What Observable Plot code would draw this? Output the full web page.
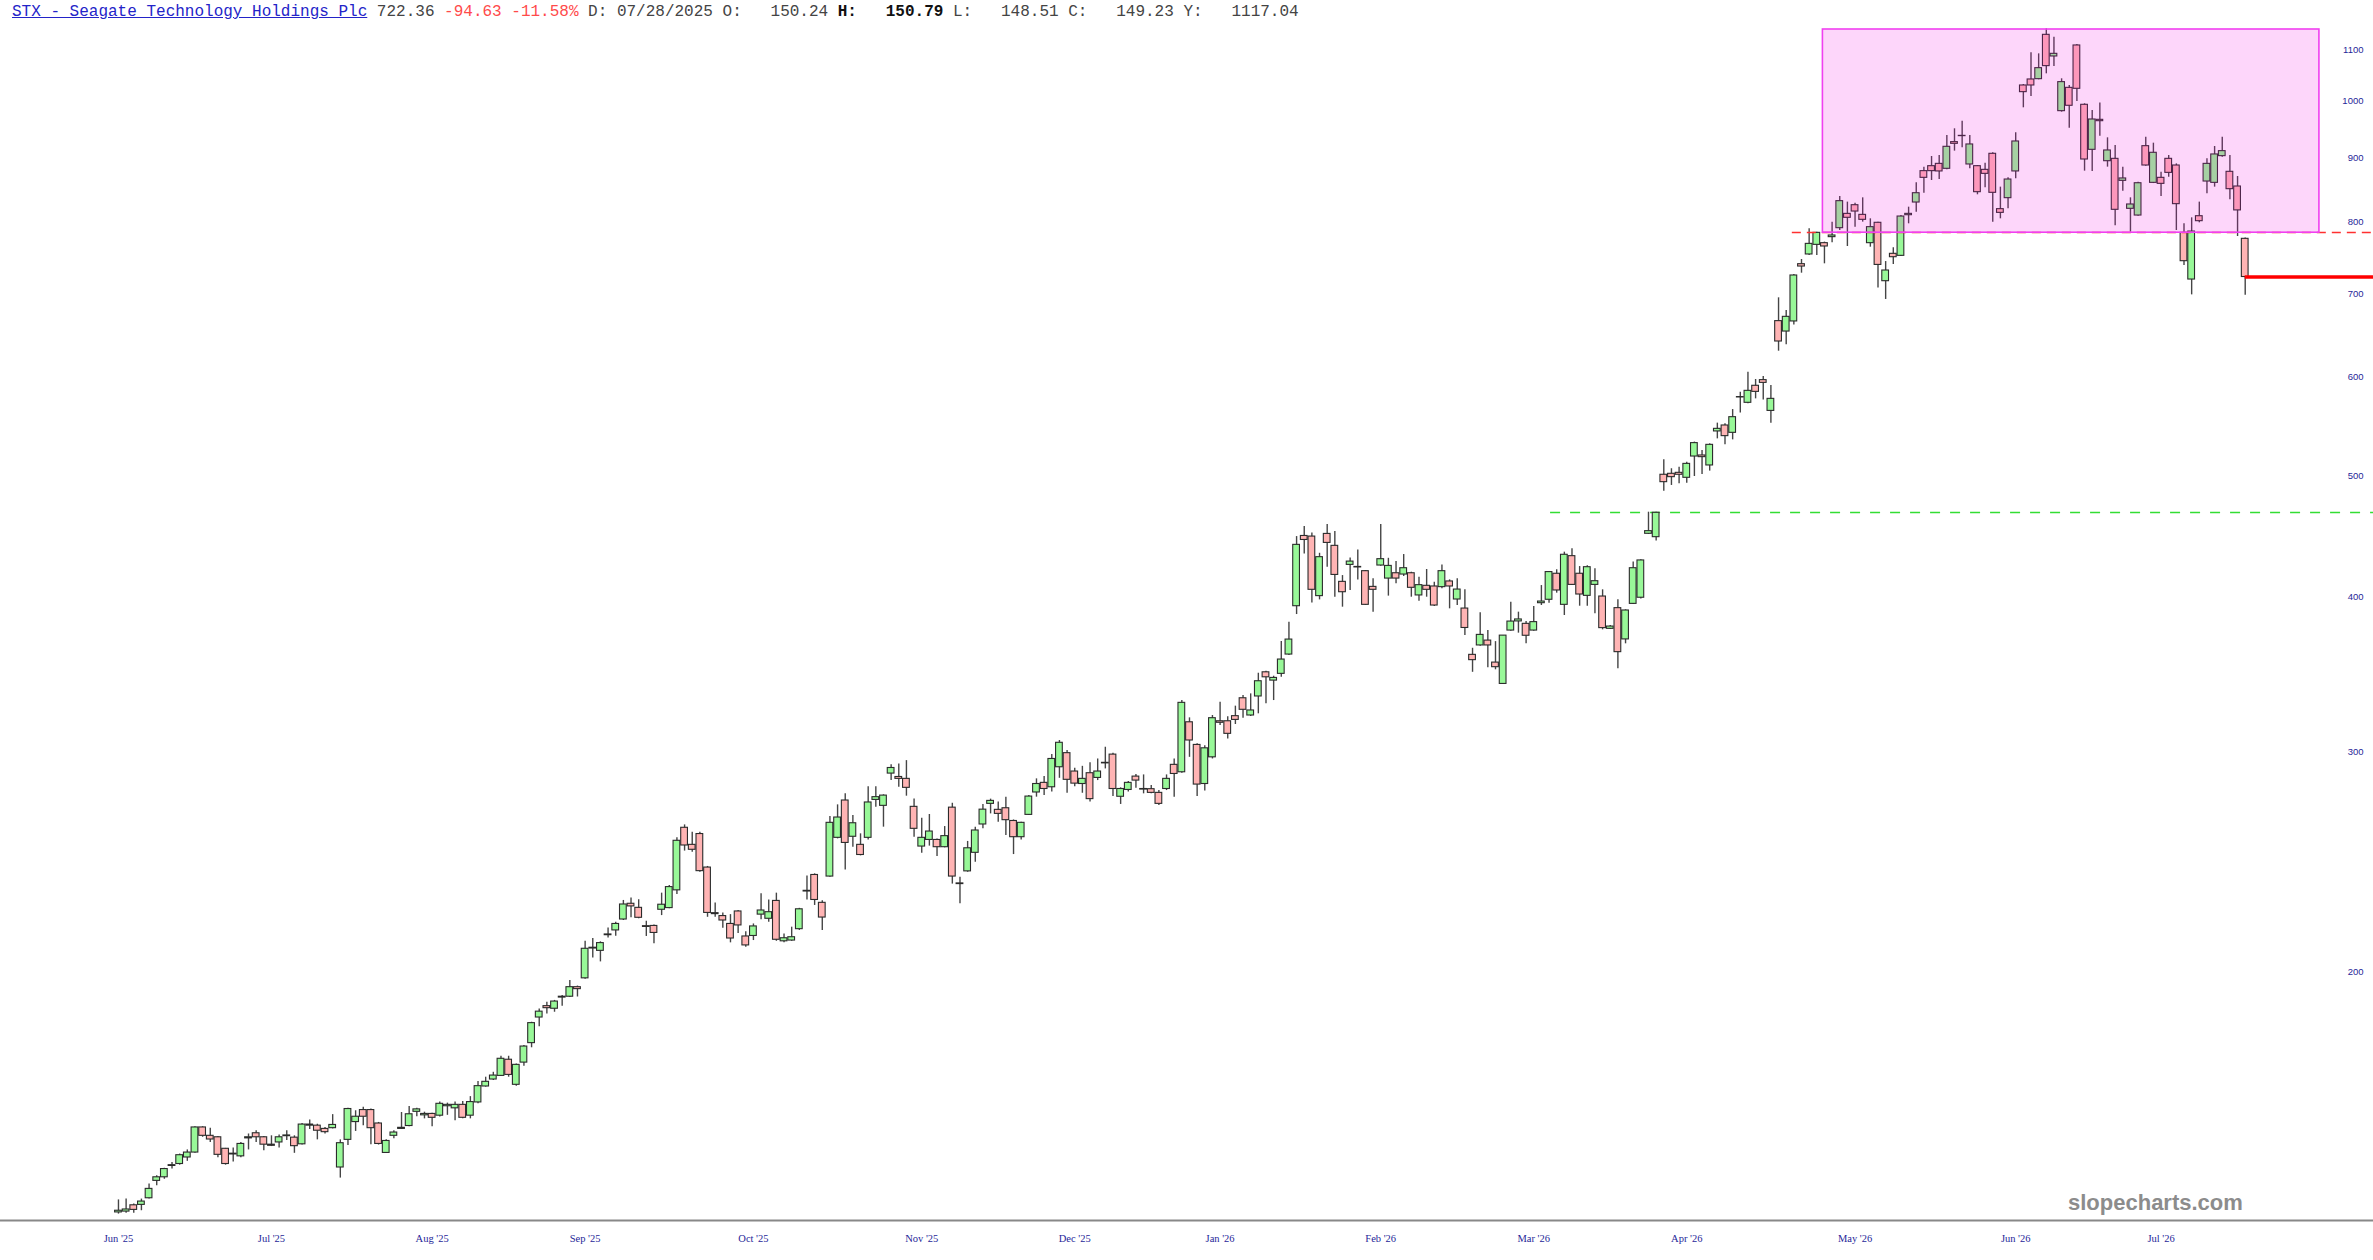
<!DOCTYPE html>
<html>
<head>
<meta charset="utf-8">
<script src="https://cdn.jsdelivr.net/npm/d3@7"></script>
<script src="https://cdn.jsdelivr.net/npm/@observablehq/plot@0.6"></script>
<style>
  html, body { margin: 0; padding: 0; background: #fff; }
  #wrap { position: relative; width: 2373px; height: 1260px; overflow: hidden; }
  #header { position: absolute; left: 12px; top: 3px; font-family: "Liberation Mono", "DejaVu Sans Mono", monospace; font-size: 16px; line-height: 18px; white-space: pre; color: #444; z-index: 2; }
  #header .t { color: #2323c8; text-decoration: underline; }
  #header .r { color: #ff4a4a; }
  #header b { color: #111; }
  #wm { position: absolute; left: 2068px; top: 1190px; font-family: "Liberation Sans", Arial, sans-serif; font-weight: bold; font-size: 22px; color: #8c8c8c; z-index: 2; }
</style>
</head>
<body>
<div id="wrap">
  <div id="header"><span class="t">STX - Seagate Technology Holdings Plc</span> 722.36 <span class="r">-94.63 -11.58%</span> D: 07/28/2025 O:   150.24 <b>H:   150.79</b> L:   148.51 C:   149.23 Y:   1117.04</div>
  <div id="wm">slopecharts.com</div>
  <div id="chart"></div>
</div>
<script>
// ---- Daily OHLC ----
const O = [128.2,128.4,129.9,130.0,131.6,135.9,136.8,139.7,140.2,141.9,143.2,150.0,147.7,147.3,144.2,142.9,142.2,147.0,148.4,147.3,145.3,145.9,147.6,147.2,145.4,150.5,150.5,149.6,149.8,139.3,146.6,151.5,154.9,154.9,151.1,143.1,147.7,149.6,150.4,154.4,153.4,153.8,153.3,156.0,155.4,156.4,153.3,157.1,161.8,163.9,165.0,170.0,162.3,169.1,175.3,183.8,187.7,186.8,190.7,191.0,194.4,197.6,208.8,207.9,214.0,215.9,220.3,226.8,225.1,217.6,217.7,224.3,225.0,232.5,261.0,252.9,258.0,242.5,222.9,221.7,218.5,223.6,213.5,213.7,222.3,220.6,228.0,211.6,211.9,216.4,232.0,239.2,227.2,238.5,256.2,274.5,256.7,252.9,256.2,274.8,271.8,288.5,286.7,285.7,271.3,252.1,255.2,255.2,251.8,270.9,235.5,240.8,249.2,262.6,272.8,269.8,270.6,264.3,256.5,267.3,278.6,283.6,281.3,291.9,299.6,289.6,283.0,288.7,286.2,294.0,298.8,276.4,279.9,286.9,280.1,280.3,278.4,280.4,293.2,289.2,317.2,304.2,283.0,297.3,317.8,317.8,320.8,331.6,321.2,332.7,347.9,342.6,346.9,359.5,393.1,447.6,447.1,400.5,449.3,439.5,411.2,424.3,422.3,419.4,407.4,423.8,413.7,417.8,416.8,417.8,401.0,408.2,407.7,407.2,411.5,398.0,391.4,359.3,365.6,368.9,354.2,340.5,375.8,382.2,380.5,375.8,395.3,397.8,417.4,394.1,431.2,417.4,400.7,408.9,400.2,377.0,391.7,369.7,394.8,399.3,449.4,446.6,501.2,502.1,503.0,498.4,518.4,519.4,509.9,543.0,549.0,541.6,578.2,572.5,590.8,597.0,564.0,665.8,653.1,665.4,739.7,753.1,766.6,769.0,777.6,790.6,811.8,824.9,810.3,769.0,798.5,716.8,754.0,751.2,809.8,829.0,878.5,886.6,890.4,882.3,926.9,937.7,889.4,886.6,880.6,907.1,818.9,835.7,878.0,1029.2,1040.7,1041.3,1130.2,1085.9,981.5,1024.7,1108.2,993.1,913.8,965.9,894.8,898.7,862.9,819.4,809.3,920.0,859.7,867.7,898.7,887.7,783.8,719.0,808.3,861.8,859.7,903.2,877.4,853.9,775.2];
const H = [131.2,131.4,130.2,131.4,135.1,137.2,139.1,140.6,142.8,143.9,150.2,150.2,149.8,147.5,144.3,144.4,145.9,148.2,149.1,147.5,147.7,147.9,149.1,147.7,151.1,152.1,150.9,150.0,153.6,146.6,155.4,154.7,155.7,155.2,151.4,146.6,149.1,154.2,155.9,155.4,154.3,154.0,157.2,156.9,157.2,157.4,158.8,163.3,164.6,166.1,171.1,171.1,168.7,174.5,182.2,186.7,189.1,189.7,191.4,196.8,194.8,211.6,212.7,211.4,216.9,219.2,228.2,229.2,228.5,219.6,218.1,231.3,234.6,256.2,262.4,258.9,258.9,243.0,227.1,223.0,222.3,224.0,215.4,218.5,231.0,228.4,231.3,214.5,217.2,224.9,238.8,239.7,228.1,266.5,272.3,277.9,267.0,258.1,281.6,281.6,277.4,293.3,293.7,295.5,275.2,265.7,267.5,255.7,261.6,273.1,238.2,254.5,261.3,272.5,275.2,273.7,276.2,264.8,263.7,277.0,285.7,286.9,298.8,306.7,301.1,291.4,292.4,294.3,296.4,302.9,299.6,281.0,284.3,288.0,287.8,282.2,279.6,287.8,296.4,330.2,319.8,304.8,303.8,321.2,329.2,320.4,326.8,333.3,334.3,347.3,348.6,345.4,368.2,381.6,447.1,455.5,450.1,433.5,457.2,451.3,416.0,429.8,436.2,419.9,413.5,457.2,429.5,426.9,432.5,418.6,414.7,420.7,410.9,424.3,412.7,413.5,405.2,363.7,388.3,375.8,368.2,372.3,396.0,388.8,382.2,392.9,408.4,419.2,420.5,434.4,437.1,423.0,423.6,421.2,405.2,379.4,397.8,390.5,426.5,428.3,467.7,467.7,515.2,506.8,508.3,513.0,532.4,524.2,530.7,551.4,550.7,565.4,583.9,605.9,597.7,601.1,591.2,695.1,679.0,725.7,746.1,789.7,784.8,770.5,799.4,838.3,829.6,828.0,836.2,804.4,799.4,743.3,762.4,809.3,821.9,859.7,885.0,902.6,904.3,938.3,950.0,963.5,938.3,887.7,891.6,908.8,852.9,867.7,943.0,1031.1,1093.2,1091.2,1142.9,1125.4,1042.0,1029.2,1110.2,995.0,982.7,996.2,934.3,921.1,885.0,836.2,860.8,935.4,925.1,876.8,904.3,890.4,797.0,805.9,829.6,898.7,919.4,935.4,904.3,869.8,776.2];
const L = [127.8,128.0,128.0,128.6,131.4,134.7,136.3,138.9,139.9,140.9,143.0,147.3,145.9,141.8,139.9,140.7,141.8,143.9,145.9,143.7,144.8,144.4,146.4,143.0,145.2,149.4,146.6,148.2,149.6,136.6,145.1,148.9,150.5,145.3,145.2,143.0,146.9,149.5,150.2,153.0,152.4,150.2,152.9,153.4,151.9,152.4,152.4,156.7,161.6,163.6,164.8,164.6,161.9,168.0,173.8,180.7,185.0,185.6,187.7,190.7,190.9,197.3,205.2,203.7,212.9,213.6,219.9,221.0,220.6,213.5,210.6,221.9,224.7,230.7,250.0,249.5,240.4,221.2,221.2,216.8,211.0,214.7,209.3,211.9,220.2,219.2,211.6,211.0,211.6,215.9,228.4,226.1,215.9,238.2,255.7,241.4,251.8,247.8,255.2,271.1,261.3,284.8,281.3,276.7,256.5,249.0,252.3,247.5,251.5,235.2,226.8,240.4,244.9,260.5,267.8,263.7,257.3,248.4,255.2,267.0,276.2,277.0,278.8,286.0,278.2,281.6,278.2,273.7,284.8,291.0,276.5,272.5,278.8,280.8,277.9,277.9,272.0,279.6,276.2,288.7,297.3,276.5,279.3,296.4,315.3,307.6,315.9,319.6,320.6,322.2,328.2,330.2,344.7,358.8,387.1,433.0,395.5,397.7,422.5,399.7,392.4,404.7,412.7,393.6,388.8,423.3,400.5,409.7,415.3,399.7,396.7,399.7,392.9,406.0,391.2,393.6,372.3,347.9,365.1,350.8,349.5,340.1,375.4,374.0,366.7,375.4,393.6,395.3,402.7,386.4,408.4,393.1,393.1,387.6,376.3,376.6,350.2,366.7,394.3,398.3,448.8,443.4,486.2,491.4,492.9,493.5,499.6,501.5,504.6,535.6,529.7,534.6,561.9,571.5,576.7,575.6,551.4,629.8,637.3,660.9,727.5,751.7,751.7,740.2,769.5,787.2,764.3,792.1,799.5,763.3,708.0,693.0,739.2,750.3,797.0,814.3,843.4,863.4,865.0,880.7,911.6,917.2,882.3,840.9,851.8,799.4,804.4,819.4,866.1,987.6,1008.5,1040.1,1051.6,1066.0,979.7,951.1,999.3,878.5,878.0,937.2,885.0,794.1,846.5,784.8,808.3,886.6,858.6,838.3,868.8,787.2,737.8,698.9,798.5,842.4,852.9,901.5,833.1,778.5,698.5];
const C = [128.6,128.9,128.8,130.8,133.9,136.8,138.9,139.9,142.5,143.2,150.0,147.7,146.7,142.6,140.2,142.7,145.5,147.3,147.3,145.3,145.0,147.3,147.8,144.9,150.8,150.8,149.1,148.7,150.7,145.7,155.2,153.0,153.0,149.8,145.5,146.3,148.6,149.9,153.7,155.1,153.8,152.7,156.7,156.4,156.4,152.7,157.2,161.9,163.2,165.1,170.3,165.3,168.4,174.2,181.9,185.8,187.0,189.3,191.0,194.4,193.7,208.7,209.1,210.9,214.3,218.5,226.5,225.7,221.0,217.3,214.9,226.4,233.9,254.8,252.6,250.6,240.9,223.0,222.5,219.9,212.7,217.9,210.0,217.5,224.0,223.3,212.2,212.8,213.2,224.5,232.3,228.4,221.1,263.4,266.0,253.8,263.2,248.2,273.5,276.2,277.0,291.5,285.7,281.0,260.5,256.2,259.2,251.8,257.0,238.5,235.2,251.3,259.7,269.9,274.3,267.8,264.7,256.5,263.4,276.5,283.0,280.4,296.4,305.4,285.2,283.2,285.7,275.2,289.6,294.3,280.4,280.4,283.6,284.8,280.4,278.4,272.8,285.7,288.3,328.8,306.7,282.7,302.3,319.6,316.9,310.5,318.6,324.6,324.2,342.2,344.7,344.3,356.2,369.6,440.3,444.3,405.2,430.4,441.9,416.5,403.4,426.9,422.7,394.1,405.2,428.8,423.5,413.7,421.7,406.7,408.7,405.2,393.6,419.4,407.7,405.4,377.6,355.8,372.8,365.6,351.2,372.3,382.1,383.6,372.2,381.7,396.5,418.7,404.7,432.3,408.9,401.7,422.5,411.7,377.5,378.6,361.1,390.0,421.7,427.8,451.6,467.2,494.4,499.0,501.2,511.4,531.4,517.8,529.7,545.6,538.3,557.5,578.6,585.3,584.2,594.0,576.7,641.2,671.1,724.4,736.5,768.0,783.8,764.3,780.0,831.1,805.9,815.3,802.9,792.1,738.7,731.1,749.3,807.8,811.8,843.4,867.7,878.5,878.0,918.9,924.0,937.2,922.9,845.0,874.1,844.0,813.3,865.0,928.0,1016.6,1029.2,1062.7,1066.7,1091.2,1035.6,991.3,1022.9,897.6,966.5,963.5,912.7,817.9,866.7,826.0,859.1,887.7,908.8,858.1,875.7,826.5,743.8,785.7,800.9,890.4,906.0,911.6,849.7,817.0,722.36];

// ---- Axis ticks ----
const monthTicks  = [0, 20, 41, 61, 83, 105, 125, 144, 165, 185, 205, 227, 248, 267];
const monthLabels = ["Jun '25","Jul '25","Aug '25","Sep '25","Oct '25","Nov '25","Dec '25","Jan '26","Feb '26","Mar '26","Apr '26","May '26","Jun '26","Jul '26"];
const yTicks = [200, 300, 400, 500, 600, 700, 800, 900, 1000, 1100];

// ---- Annotations (price levels and bar-index spans) ----
const zoneBox   = [{x1: 222.8, x2: 287.7, y1: 784, y2: 1141.4}];
const redDash   = [{level: 784.3, from: 218.8}];
const greenDash = [{level: 467.5, from: 187.2}];
const lastPrice = [{level: 722.36, from: 278}];

const rows = O.map((o, i) => ({i, o, h: H[i], l: L[i], c: C[i]}));
const monthMap = new Map(monthTicks.map((t, k) => [t, monthLabels[k]]));
const xDomain = [-15.42, 294.77];
const yDomain = [126.3, 1141.4];
const navy = "#1f1f99";

const chart = Plot.plot({
  width: 2373,
  height: 1260,
  marginTop: 29,
  marginBottom: 40,
  marginLeft: 0,
  marginRight: 0,
  style: {background: "#fff", fontFamily: "'Liberation Sans', Arial, sans-serif"},
  x: {domain: xDomain},
  y: {type: "log", domain: yDomain},
  marks: [
    Plot.ruleY(greenDash, {y: "level", x1: "from", x2: xDomain[1], stroke: "#33dd33", strokeWidth: 1.5, strokeDasharray: "10,10"}),
    Plot.ruleX(rows, {x: "i", y1: "l", y2: "h", stroke: "#454545", strokeWidth: 1.4}),
    Plot.rect(rows, {
      x1: d => d.i - 0.44, x2: d => d.i + 0.44,
      y1: "o", y2: "c",
      fill: d => d.c >= d.o ? "#98f898" : "#ffb4b4",
      stroke: "#2b2b2b", strokeWidth: 1.1
    }),
    Plot.ruleY(redDash, {y: "level", x1: "from", x2: xDomain[1], stroke: "#ff3030", strokeWidth: 1.5, strokeDasharray: "9,6"}),
    Plot.rect(zoneBox, {x1: "x1", x2: "x2", y1: "y1", y2: "y2", fill: "#f300e2", fillOpacity: 0.16, stroke: "#f040f0", strokeWidth: 1.6}),
    Plot.ruleY(lastPrice, {y: "level", x1: "from", x2: xDomain[1], stroke: "#ff0000", strokeWidth: 3.5}),
    Plot.ruleY([yDomain[0]], {stroke: "#888", strokeWidth: 2}),
    Plot.axisY(yTicks, {anchor: "right", tickSize: 0, tickPadding: 0, textAnchor: "end", dx: -10, tickFormat: d => String(d), fontSize: 9.5, fill: navy, color: navy, label: null}),
    Plot.axisX(monthTicks, {anchor: "bottom", tickSize: 0, tickPadding: 14, tickFormat: d => monthMap.get(d), fontSize: 10.5, fontFamily: "'Liberation Serif', 'Times New Roman', serif", fill: navy, color: navy, label: null})
  ]
});
document.getElementById("chart").appendChild(chart);
</script>
</body>
</html>
